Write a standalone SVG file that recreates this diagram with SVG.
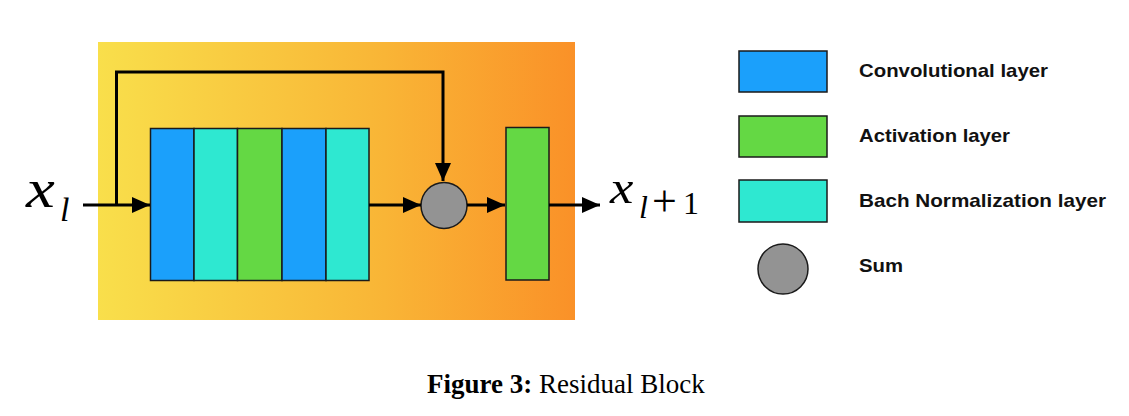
<svg xmlns="http://www.w3.org/2000/svg" width="1129" height="416" viewBox="0 0 1129 416">
<defs>
<linearGradient id="bg" x1="0" y1="0" x2="1" y2="0">
<stop offset="0" stop-color="#f9df4b"/>
<stop offset="0.6" stop-color="#f9b536"/>
<stop offset="1" stop-color="#fa9128"/>
</linearGradient>
<marker id="ah" markerUnits="userSpaceOnUse" markerWidth="18" markerHeight="16" refX="18" refY="8" orient="auto">
<path d="M0,0 L18,8 L0,16 Z" fill="#000"/>
</marker>
<style>
.ln{stroke:#000;stroke-width:3;fill:none}
.blk{stroke:#1a1a1a;stroke-width:1.5}
.conv{fill:#1ba0fb}
.bn{fill:#2ee8d1}
.act{fill:#64d844}
.sum{fill:#939393}
.leg{font-family:"Liberation Sans",Arial,sans-serif;font-weight:bold;font-size:19px;fill:#111}
.math{font-family:"Liberation Serif","Times New Roman",serif;font-style:italic;fill:#000}
.mrm{font-family:"Liberation Serif","Times New Roman",serif;fill:#000}
.cap{font-family:"Liberation Serif","Times New Roman",serif;font-size:27px;fill:#000}
</style>
</defs>
<rect x="98" y="42" width="477" height="278" fill="url(#bg)"/>
<g id="stack">
<rect class="conv blk" x="150.5" y="128.5" width="43.5" height="152"/>
<rect class="bn blk" x="194" y="128.5" width="43.5" height="152"/>
<rect class="act blk" x="237.5" y="128.5" width="44.5" height="152"/>
<rect class="conv blk" x="282" y="128.5" width="44" height="152"/>
<rect class="bn blk" x="326" y="128.5" width="43" height="152"/>
</g>
<g id="sum"><ellipse class="sum blk" cx="444" cy="205.5" rx="23" ry="23"/></g>
<g id="act2"><rect class="act blk" x="506" y="127.5" width="43" height="152.5"/></g>
<g id="connectors">
<line class="ln" x1="83" y1="205" x2="150" y2="205" marker-end="url(#ah)"/>
<polyline class="ln" points="116.5,205 116.5,72 443,72 443,181" marker-end="url(#ah)"/>
<line class="ln" x1="369" y1="205" x2="421" y2="205" marker-end="url(#ah)"/>
<line class="ln" x1="467" y1="205" x2="505" y2="205" marker-end="url(#ah)"/>
<line class="ln" x1="549" y1="205" x2="600" y2="205" marker-end="url(#ah)"/>
</g>
<g id="xin">
<text class="math" font-size="54" transform="translate(26,207) scale(1.2,1)">x</text>
<text class="math" x="60" y="221" font-size="34">l</text>
</g>
<g id="xout">
<text class="math" font-size="47" transform="translate(610,203) scale(1.12,1)">x</text>
<text class="math" x="639" y="218" font-size="32">l</text>
<text class="mrm" x="652" y="216" font-size="44">+</text>
<text class="mrm" x="683" y="214" font-size="32">1</text>
</g>
<g id="legend">
<rect class="conv blk" x="739" y="51" width="88" height="41"/>
<text class="leg" x="859" y="77" textLength="189" lengthAdjust="spacingAndGlyphs">Convolutional layer</text>
<rect class="act blk" x="739" y="116" width="88" height="41"/>
<text class="leg" x="859" y="142" textLength="151" lengthAdjust="spacingAndGlyphs">Activation layer</text>
<rect class="bn blk" x="739" y="180" width="88" height="42"/>
<text class="leg" x="859" y="207" textLength="247" lengthAdjust="spacingAndGlyphs">Bach Normalization layer</text>
<circle class="sum blk" cx="783" cy="269" r="25"/>
<text class="leg" x="859" y="272" textLength="44" lengthAdjust="spacingAndGlyphs">Sum</text>
</g>
<text class="cap" x="427" y="393"><tspan font-weight="bold">Figure 3:</tspan> Residual Block</text>
</svg>
